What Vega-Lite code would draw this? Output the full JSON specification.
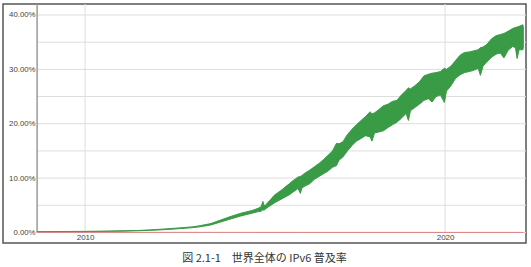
{
  "$schema": "https://vega.github.io/schema/vega-lite/v6.json",
  "autosize": "none",
  "width": 523,
  "height": 239,
  "padding": {"left": 3, "top": 4, "right": 5, "bottom": 24},
  "background": "white",
  "config": {
    "view": {"stroke": "#555555", "strokeWidth": 1.5},
    "axis": {"labelFont": "Liberation Sans", "labelColor": "#444444", "grid": false, "ticks": false, "domain": false}
  },
  "title": {
    "text": "図 2.1-1　世界全体の IPv6 普及率",
    "orient": "bottom",
    "anchor": "middle",
    "font": "Noto Sans CJK JP",
    "fontSize": 11,
    "fontWeight": "normal",
    "color": "#333333",
    "offset": 10
  },
  "datasets": {
    "ipv6": [
      {"date": "2008-09-01", "lo": 0.12, "hi": 0.16},
      {"date": "2009-04-20", "lo": 0.15, "hi": 0.18},
      {"date": "2010-01-01", "lo": 0.17, "hi": 0.21},
      {"date": "2010-07-01", "lo": 0.2, "hi": 0.25},
      {"date": "2011-01-01", "lo": 0.25, "hi": 0.3},
      {"date": "2011-07-01", "lo": 0.33, "hi": 0.38},
      {"date": "2011-10-20", "lo": 0.4, "hi": 0.48},
      {"date": "2012-01-01", "lo": 0.45, "hi": 0.55},
      {"date": "2012-07-01", "lo": 0.65, "hi": 0.78},
      {"date": "2013-01-01", "lo": 0.9, "hi": 1.05},
      {"date": "2013-03-12", "lo": 1.05, "hi": 1.25},
      {"date": "2013-07-01", "lo": 1.4, "hi": 1.65},
      {"date": "2013-10-01", "lo": 1.9, "hi": 2.25},
      {"date": "2014-01-01", "lo": 2.4, "hi": 2.85},
      {"date": "2014-04-21", "lo": 3.0, "hi": 3.5},
      {"date": "2014-09-01", "lo": 3.6, "hi": 4.1},
      {"date": "2014-10-15", "lo": 3.8, "hi": 4.4},
      {"date": "2014-11-20", "lo": 3.9, "hi": 4.7},
      {"date": "2014-12-10", "lo": 4.2, "hi": 5.7},
      {"date": "2014-12-20", "lo": 4.1, "hi": 5.0},
      {"date": "2015-01-05", "lo": 4.3, "hi": 5.0},
      {"date": "2015-02-01", "lo": 4.7, "hi": 5.6},
      {"date": "2015-03-01", "lo": 5.0, "hi": 6.1},
      {"date": "2015-04-01", "lo": 5.4, "hi": 6.8},
      {"date": "2015-05-01", "lo": 5.7, "hi": 7.2},
      {"date": "2015-06-01", "lo": 6.0, "hi": 7.6},
      {"date": "2015-07-01", "lo": 6.3, "hi": 8.0},
      {"date": "2015-08-01", "lo": 6.6, "hi": 8.5},
      {"date": "2015-09-01", "lo": 6.9, "hi": 8.9},
      {"date": "2015-10-01", "lo": 7.3, "hi": 9.4},
      {"date": "2015-11-01", "lo": 7.7, "hi": 9.8},
      {"date": "2015-12-01", "lo": 8.1, "hi": 10.2},
      {"date": "2015-12-25", "lo": 7.2, "hi": 10.3},
      {"date": "2016-01-10", "lo": 8.2, "hi": 10.5},
      {"date": "2016-02-15", "lo": 8.6, "hi": 11.0},
      {"date": "2016-04-01", "lo": 9.0, "hi": 11.5},
      {"date": "2016-05-15", "lo": 9.8, "hi": 12.1},
      {"date": "2016-07-01", "lo": 10.3, "hi": 12.7},
      {"date": "2016-08-15", "lo": 10.8, "hi": 13.4},
      {"date": "2016-10-01", "lo": 11.3, "hi": 14.2},
      {"date": "2016-11-15", "lo": 12.0, "hi": 15.0},
      {"date": "2016-12-25", "lo": 12.3, "hi": 16.4},
      {"date": "2017-01-20", "lo": 13.3, "hi": 16.3},
      {"date": "2017-03-01", "lo": 13.9, "hi": 16.7},
      {"date": "2017-04-15", "lo": 15.0, "hi": 18.0},
      {"date": "2017-06-01", "lo": 16.0, "hi": 19.0},
      {"date": "2017-07-15", "lo": 16.8, "hi": 19.8},
      {"date": "2017-09-01", "lo": 17.3, "hi": 20.6},
      {"date": "2017-10-15", "lo": 17.8, "hi": 21.3},
      {"date": "2017-12-01", "lo": 17.6, "hi": 22.2},
      {"date": "2017-12-20", "lo": 16.8, "hi": 21.8},
      {"date": "2018-01-15", "lo": 18.3, "hi": 22.0},
      {"date": "2018-03-01", "lo": 18.5, "hi": 22.6},
      {"date": "2018-04-15", "lo": 18.7, "hi": 23.3},
      {"date": "2018-06-01", "lo": 19.3, "hi": 23.6},
      {"date": "2018-07-15", "lo": 19.8, "hi": 24.1},
      {"date": "2018-09-01", "lo": 20.3, "hi": 24.3},
      {"date": "2018-10-15", "lo": 21.0, "hi": 25.3},
      {"date": "2018-12-01", "lo": 21.9, "hi": 26.1},
      {"date": "2018-12-25", "lo": 20.6, "hi": 26.6},
      {"date": "2019-01-15", "lo": 22.4, "hi": 26.4},
      {"date": "2019-03-01", "lo": 23.0, "hi": 27.0},
      {"date": "2019-04-15", "lo": 23.6, "hi": 27.7},
      {"date": "2019-06-01", "lo": 24.3, "hi": 28.8},
      {"date": "2019-07-15", "lo": 24.6, "hi": 29.1},
      {"date": "2019-08-22", "lo": 24.0, "hi": 29.3},
      {"date": "2019-10-01", "lo": 25.0, "hi": 29.4},
      {"date": "2019-11-15", "lo": 25.3, "hi": 29.6},
      {"date": "2019-12-25", "lo": 23.9, "hi": 30.2},
      {"date": "2020-01-15", "lo": 26.0, "hi": 30.0},
      {"date": "2020-03-01", "lo": 27.0, "hi": 30.6},
      {"date": "2020-04-15", "lo": 28.3, "hi": 31.6},
      {"date": "2020-06-01", "lo": 29.0, "hi": 32.6},
      {"date": "2020-07-15", "lo": 29.4, "hi": 33.1},
      {"date": "2020-09-01", "lo": 29.6, "hi": 33.2},
      {"date": "2020-10-15", "lo": 29.8, "hi": 33.4},
      {"date": "2020-12-01", "lo": 30.2, "hi": 33.6},
      {"date": "2020-12-25", "lo": 28.9, "hi": 34.0},
      {"date": "2021-01-20", "lo": 30.6, "hi": 34.1},
      {"date": "2021-03-01", "lo": 31.4, "hi": 34.6},
      {"date": "2021-04-15", "lo": 32.2, "hi": 35.6},
      {"date": "2021-06-01", "lo": 32.8, "hi": 36.2},
      {"date": "2021-07-15", "lo": 33.0, "hi": 36.4},
      {"date": "2021-08-20", "lo": 32.1, "hi": 36.6},
      {"date": "2021-10-01", "lo": 33.5, "hi": 37.0},
      {"date": "2021-11-15", "lo": 34.2, "hi": 37.5},
      {"date": "2021-12-15", "lo": 34.0, "hi": 37.7},
      {"date": "2022-01-01", "lo": 32.0, "hi": 37.8},
      {"date": "2022-01-20", "lo": 33.6, "hi": 37.9},
      {"date": "2022-03-01", "lo": 33.6, "hi": 38.2},
      {"date": "2022-03-05", "lo": 34.0, "hi": 37.6}
    ],
    "other": [
      {"date": "2008-09-01", "v": 0.03},
      {"date": "2012-01-01", "v": 0.03},
      {"date": "2016-01-01", "v": 0.02},
      {"date": "2022-03-05", "v": 0.02}
    ],
    "gridY": [
      {"v": 5}, {"v": 10}, {"v": 15}, {"v": 20}, {"v": 25}, {"v": 30}, {"v": 35}, {"v": 40}
    ],
    "gridX": [
      {"date": "2010-01-01"}, {"date": "2020-01-01"}
    ]
  },
  "layer": [
    {
      "data": {"name": "gridY"},
      "mark": {"type": "rule", "color": "#dddddd", "strokeWidth": 1},
      "encoding": {
        "y": {"field": "v", "type": "quantitative", "scale": {"domain": [-1.93, 42.02], "nice": false, "zero": false},
          "axis": {"orient": "left", "offset": -34, "labelPadding": 2, "labelFontSize": 7.8, "values": [0, 5, 10, 15, 20, 25, 30, 35, 40], "labelExpr": "format(datum.value, '.2f') + '%'", "title": null}},
        "x": {"datum": {"year": 2008, "month": 9, "date": 1}, "type": "temporal", "scale": {"domain": [{"year": 2007, "month": 9, "date": 21}, {"year": 2022, "month": 4, "date": 1}]},
          "axis": {"orient": "bottom", "offset": -11, "labelPadding": 1, "labelFontSize": 8, "format": "%Y", "values": [{"year": 2010, "month": 1, "date": 1}, {"year": 2020, "month": 1, "date": 1}], "title": null}},
        "x2": {"datum": {"year": 2022, "month": 4, "date": 1}}
      }
    },
    {
      "data": {"name": "gridX"},
      "mark": {"type": "rule", "color": "#dddddd", "strokeWidth": 1},
      "encoding": {
        "x": {"field": "date", "type": "temporal"},
        "y": {"datum": 0, "type": "quantitative"},
        "y2": {"datum": 42.02}
      }
    },
    {
      "data": {"name": "gridX"},
      "mark": {"type": "rule", "color": "#999999", "strokeWidth": 1},
      "encoding": {
        "x": {"datum": {"year": 2008, "month": 9, "date": 1}, "type": "temporal"},
        "y": {"datum": 0, "type": "quantitative"},
        "y2": {"datum": 42.02}
      }
    },
    {
      "data": {"name": "gridX"},
      "mark": {"type": "rule", "color": "#cccccc", "strokeWidth": 1},
      "encoding": {
        "x": {"datum": {"year": 2008, "month": 9, "date": 1}, "type": "temporal"},
        "x2": {"datum": {"year": 2022, "month": 4, "date": 1}},
        "y": {"datum": 0, "type": "quantitative"}
      }
    },
    {
      "data": {"name": "ipv6"},
      "mark": {"type": "area", "color": "#3a9b47", "stroke": "#3a9b47", "strokeWidth": 1},
      "encoding": {
        "x": {"field": "date", "type": "temporal"},
        "y": {"field": "lo", "type": "quantitative"},
        "y2": {"field": "hi"}
      }
    },
    {
      "data": {"name": "other"},
      "mark": {"type": "line", "color": "#e08080", "strokeWidth": 1},
      "encoding": {
        "x": {"field": "date", "type": "temporal"},
        "y": {"field": "v", "type": "quantitative"}
      }
    }
  ]
}
